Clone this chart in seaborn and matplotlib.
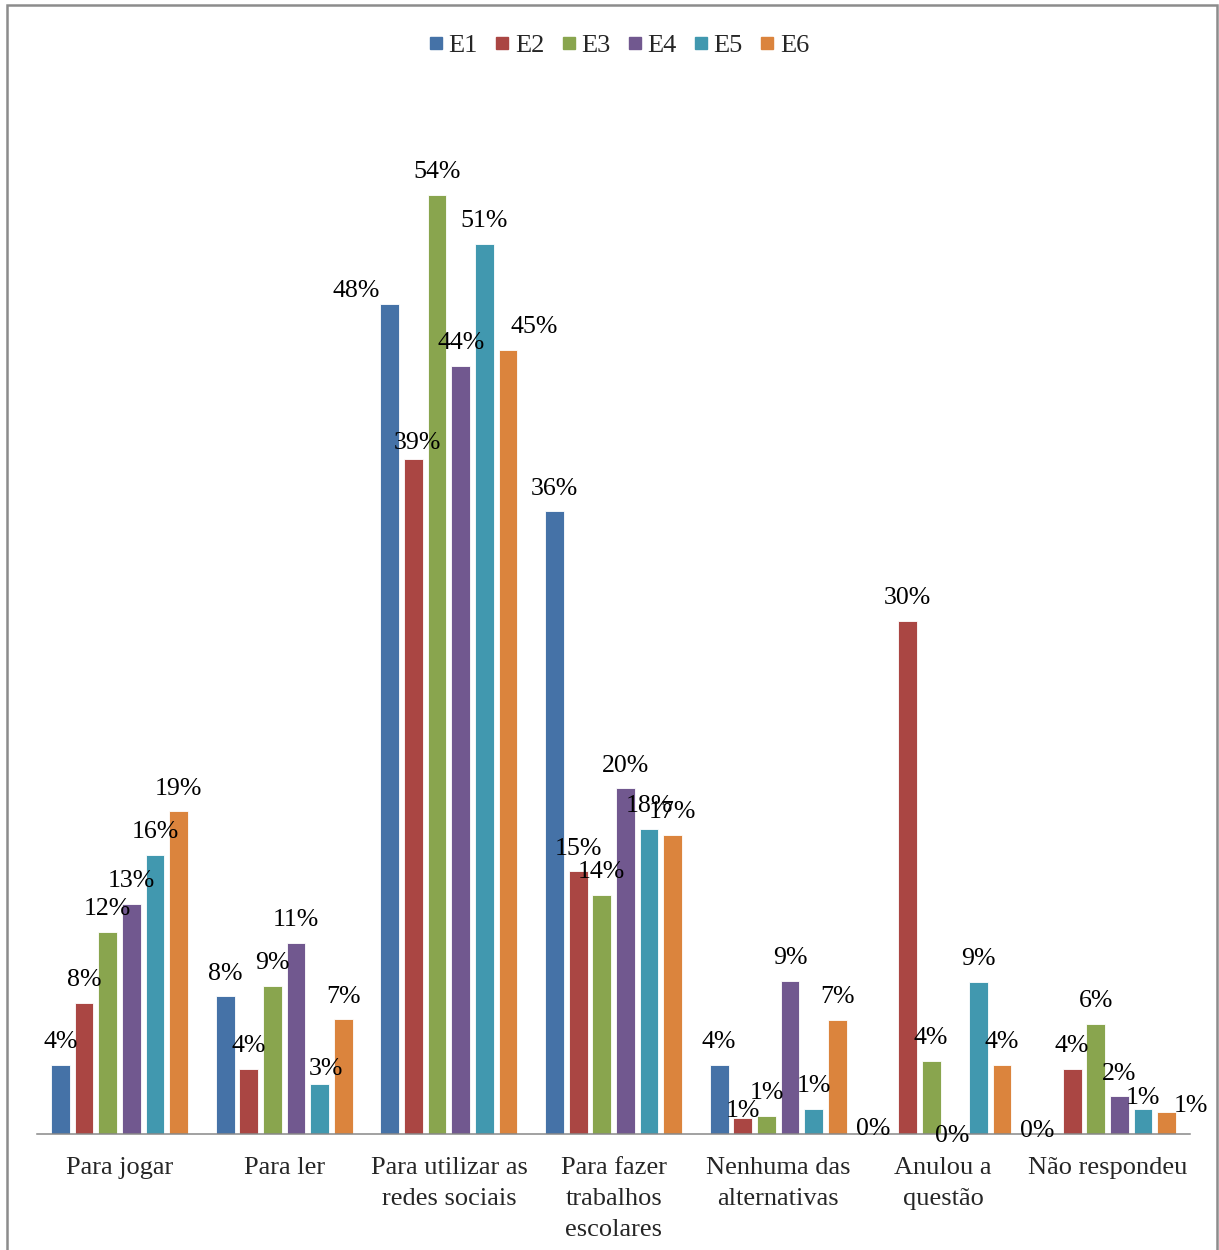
import pandas as pd
import matplotlib.pyplot as plt
import seaborn as sns
from matplotlib.patches import Rectangle
from matplotlib.lines import Line2D

# categories and series (values in %)
categories = ['Para jogar', 'Para ler', 'Para utilizar as\nredes sociais',
              'Para fazer\ntrabalhos\nescolares', 'Nenhuma das\nalternativas',
              'Anulou a\nquestão', 'Não respondeu']
series = ['E1', 'E2', 'E3', 'E4', 'E5', 'E6']

e1 = [3.96, 7.91, 47.74, 35.8, 3.96, 0.0, 0.0]
e2 = [7.54, 3.75, 38.83, 15.1, 0.9, 29.5, 3.75]
e3 = [11.63, 8.5, 54.0, 13.74, 1.03, 4.2, 6.34]
e4 = [13.24, 11.01, 44.19, 19.87, 8.8, 0.0, 2.17]
e5 = [16.07, 2.89, 51.19, 17.53, 1.44, 8.74, 1.45]
e6 = [18.55, 6.6, 45.09, 17.2, 6.57, 3.96, 1.28]

colors = ['#4572A7', '#AA4643', '#89A54E', '#71588F', '#4198AF', '#DB843D']

rows = []
for name, vals in zip(series, [e1, e2, e3, e4, e5, e6]):
    for cat, v in zip(categories, vals):
        rows.append({'categoria': cat, 'serie': name, 'valor': v})
df = pd.DataFrame(rows)

sns.set_style('white')
plt.rcParams['font.family'] = ['Liberation Serif', 'DejaVu Serif']

fig = plt.figure(figsize=(12.19, 12.5), dpi=100)
ax = fig.add_axes([37.3 / 1219, 116 / 1250, 1152.7 / 1219, 1034 / 1250])

sns.barplot(data=df, x='categoria', y='valor', hue='serie', order=categories,
            hue_order=series, palette=colors, width=0.862, gap=0.21,
            edgecolor='white', linewidth=0.6, saturation=1, ax=ax)

ax.set_xlim(-0.5, 6.5)
ax.set_ylim(0, 59.46)
ax.set_xlabel('')
ax.set_ylabel('')
ax.set_yticks([])
for s in ['top', 'left', 'right']:
    ax.spines[s].set_visible(False)
ax.spines['bottom'].set_color('#888888')
ax.spines['bottom'].set_linewidth(1.1)
ax.tick_params(axis='x', length=0, pad=16.5, labelsize=19)
for t in ax.get_xticklabels():
    t.set_linespacing(1.52)

# hand-moved labels in the original (pixels: dx right, dy down)
nudges = {(2, 0): (-34, 10), (2, 1): (4, 7), (2, 5): (26, 0),
          (1, 4): (6, 8), (4, 1): (0, 15), (5, 0): (-11, 17.5),
          (5, 3): (-3, 25), (6, 0): (-11, 19.5), (6, 4): (0, 12),
          (6, 5): (24, 17)}
px = 0.72
for j, cont in enumerate(ax.containers):
    for i, bar in enumerate(cont):
        h = bar.get_height()
        dx, dy = nudges.get((i, j), (0, 0))
        ax.annotate(f'{int(h + 0.5)}%', (bar.get_x() + bar.get_width() / 2, h),
                    xytext=(dx * px, (16.7 - dy) * px), textcoords='offset points',
                    ha='center', va='baseline', fontsize=18.6, color='black')

handles = [Line2D([], [], marker='s', linestyle='', color=c, markersize=8.5)
           for c in colors]
ax.legend(handles, series, loc='center', bbox_to_anchor=(0.508, 0.9635),
          bbox_transform=fig.transFigure, ncol=6, frameon=False, fontsize=19,
          handlelength=0.5, handletextpad=0.22, columnspacing=0.68)

fig.patches.append(Rectangle((7 / 1219, -0.01), 1210 / 1219, 1.01 - 4.5 / 1250,
                             transform=fig.transFigure, fill=False,
                             edgecolor='#8c8c8c', linewidth=1.8))

plt.savefig('out.png', dpi=100)
